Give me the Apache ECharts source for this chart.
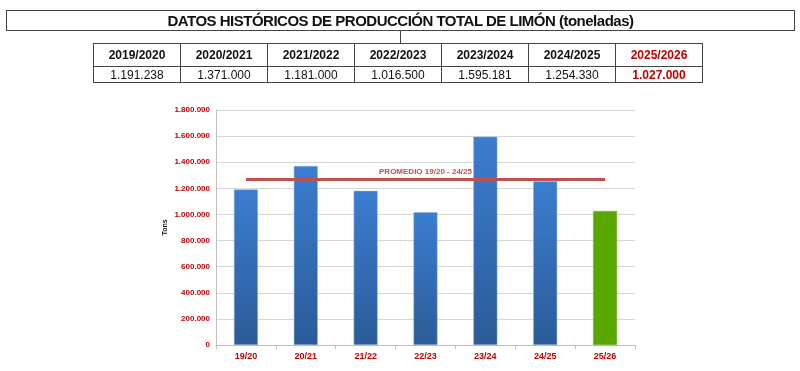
<!DOCTYPE html>
<html>
<head>
<meta charset="utf-8">
<script src="https://cdn.jsdelivr.net/npm/echarts@6/dist/echarts.min.js"></script>
<style>
  html, body { margin: 0; padding: 0; background: #fff; }
  #wrap { position: relative; width: 800px; height: 371px; overflow: hidden; }
  #chart { position: absolute; left: 0; top: 0; width: 800px; height: 371px; }
  #title {
    position: absolute; left: 6px; top: 10px; width: 787px; height: 19px;
    border: 1px solid #444; text-align: center; line-height: 20px;
    font-family: "Liberation Sans", "Arial", sans-serif; font-weight: bold; font-size: 15px; color: #111;
    letter-spacing: -0.5px;
  }
  #conn { position: absolute; left: 400px; top: 31px; width: 1px; height: 12px; background: #444; }
  #tbl {
    position: absolute; left: 93px; top: 43px; border-collapse: collapse;
    font-family: "Liberation Sans", Arial, sans-serif; font-size: 12px; color: #111;
  }
  #tbl td { border: 1px solid #444; width: 86px; text-align: center; padding: 0; }
  #tbl tr.h td { height: 22px; font-weight: bold; }
  #tbl tr.v td { height: 15px; }
  #tbl td.red { color: #c00000; font-weight: bold; }
</style>
</head>
<body>
<div id="wrap">
  <div id="chart"></div>
  <div id="title"></div>
  <div id="conn"></div>
  <table id="tbl"><tbody><tr class="h" id="hrow"></tr><tr class="v" id="vrow"></tr></tbody></table>
</div>
<script>
const titleText = 'DATOS HISTÓRICOS DE PRODUCCIÓN TOTAL DE LIMÓN (toneladas)';
const tableSeasons = ['2019/2020', '2020/2021', '2021/2022', '2022/2023', '2023/2024', '2024/2025', '2025/2026'];
const tableValues = ['1.191.238', '1.371.000', '1.181.000', '1.016.500', '1.595.181', '1.254.330', '1.027.000'];
const categories = ['19/20', '20/21', '21/22', '22/23', '23/24', '24/25', '25/26'];
const production = [1191238, 1371000, 1181000, 1016500, 1595181, 1254330, 1027000];
const averageLabel = 'PROMEDIO 19/20 - 24/25';
const yAxisName = 'Tons';

document.getElementById('title').textContent = titleText;
const hrow = document.getElementById('hrow');
const vrow = document.getElementById('vrow');
tableSeasons.forEach((s, i) => {
  const td = document.createElement('td'); td.textContent = s;
  if (i === tableSeasons.length - 1) td.className = 'red';
  hrow.appendChild(td);
  const tv = document.createElement('td'); tv.textContent = tableValues[i];
  if (i === tableValues.length - 1) tv.className = 'red';
  vrow.appendChild(tv);
});

const hist = production.slice(0, 6);
const average = hist.reduce((a, b) => a + b, 0) / hist.length;

function fmt(v) {
  return String(v).replace(/\B(?=(\d{3})+(?!\d))/g, '.');
}

const blueGrad = new echarts.graphic.LinearGradient(0, 0, 0, 1, [
  { offset: 0, color: '#3b7dcf' },
  { offset: 1, color: '#2c5b98' }
]);

const chart = echarts.init(document.getElementById('chart'), null, { renderer: 'canvas' });
chart.setOption({
  animation: false,
  grid: { left: 216, right: 165, top: 110, bottom: 26 },
  graphic: [{
    type: 'text',
    x: 165, y: 227.5,
    rotation: Math.PI / 2,
    style: {
      text: yAxisName, fill: '#111', font: 'bold 7px "Liberation Sans", Arial',
      align: 'center', verticalAlign: 'middle'
    }
  }],
  xAxis: {
    type: 'category',
    data: categories,
    axisLine: { lineStyle: { color: '#bfbfbf' } },
    axisTick: { show: true, length: 4, lineStyle: { color: '#bfbfbf' } },
    axisLabel: { color: '#c00000', fontWeight: 'bold', fontSize: 9, margin: 7, fontFamily: 'Liberation Sans, Arial' }
  },
  yAxis: {
    type: 'value',
    min: 0, max: 1800000, interval: 200000,
    axisLine: { show: true, lineStyle: { color: '#bfbfbf' } },
    axisTick: { show: false },
    splitLine: { lineStyle: { color: '#d6d6d6' } },
    axisLabel: { color: '#c00000', fontWeight: 'bold', fontSize: 8, margin: 6, fontFamily: 'Liberation Sans, Arial', formatter: fmt }
  },
  series: [{
    type: 'bar',
    barWidth: '40%',
    data: production.map((v, i) => i === production.length - 1
      ? { value: v, itemStyle: { color: '#5aa702', borderColor: '#6db51c', borderWidth: 0.5 } }
      : { value: v, itemStyle: { color: blueGrad, borderColor: '#8fb3e0', borderWidth: 0.5 } }),
    markLine: {
      silent: true,
      symbol: ['none', 'none'],
      lineStyle: { color: '#c0504d', width: 3, type: 'solid' },
      label: {
        show: true, position: 'middle', formatter: averageLabel,
        color: '#c0504d', fontSize: 8, fontWeight: 'bold', distance: 4,
        fontFamily: 'Liberation Sans, Arial'
      },
      data: [[
        { coord: [categories[0], average] },
        { coord: [categories[categories.length - 1], average] }
      ]]
    }
  }]
});
</script>
</body>
</html>
